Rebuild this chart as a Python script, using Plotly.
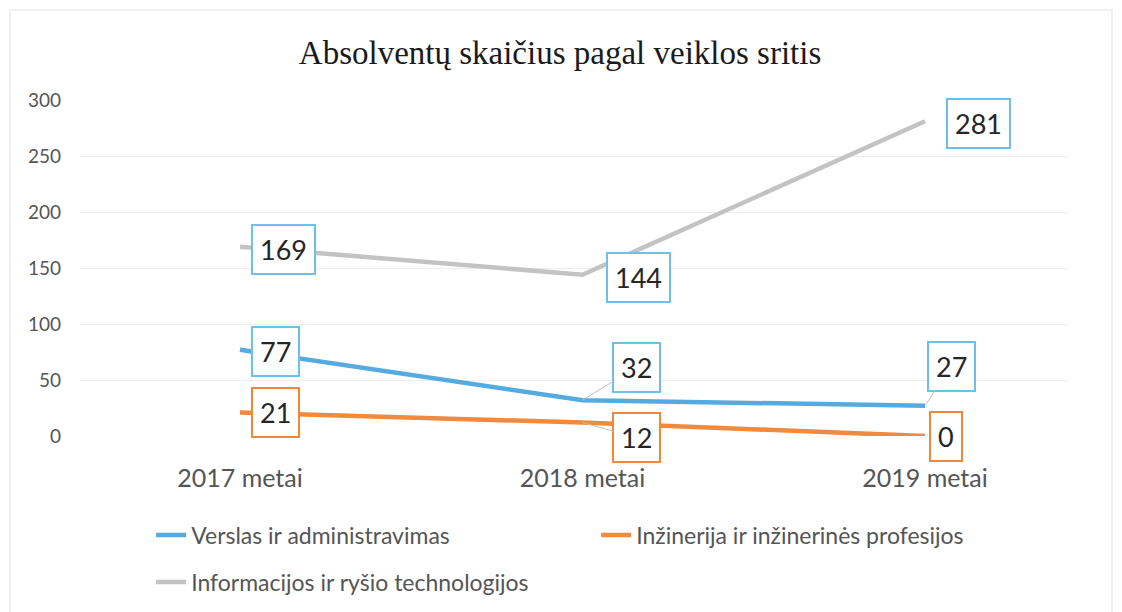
import plotly.graph_objects as go

# data
years = ["2017 metai", "2018 metai", "2019 metai"]
verslas = [77, 32, 27]
inzinerija = [21, 12, 0]
it = [169, 144, 281]

series_names = [
    "Verslas ir administravimas",
    "Inžinerija ir inžinerinės profesijos",
    "Informacijos ir ryšio technologijos",
]
y_ticks = [0, 50, 100, 150, 200, 250, 300]

blue = "#55ABE0"
orange = "#F28A3E"
grey = "#C3C3C3"
box_blue = "#6CC0EA"
box_orange = "#F0883C"

fig = go.Figure()
fig.add_trace(go.Scatter(x=years, y=verslas, name=series_names[0], mode="lines",
                         line=dict(color=blue, width=4.5), legend="legend"))
fig.add_trace(go.Scatter(x=years, y=inzinerija, name=series_names[1], mode="lines",
                         line=dict(color=orange, width=4.5), legend="legend"))
fig.add_trace(go.Scatter(x=years, y=it, name=series_names[2], mode="lines",
                         line=dict(color=grey, width=4.5), legend="legend2"))

# label placement: (box centre offset x, offset y, border colour, leader line)
label_style = {
    "it": [(44, 3, box_blue, False), (56, 3, box_blue, False), (53, 2, box_blue, False)],
    "verslas": [(36, 2, box_blue, False), (54, -33, box_blue, True), (26, -39, box_blue, True)],
    "inzinerija": [(36, 0, box_orange, False), (54, 15, box_orange, True), (21, 0, box_orange, False)],
}
for key, vals in (("it", it), ("verslas", verslas), ("inzinerija", inzinerija)):
    for i, v in enumerate(vals):
        dx, dy, bc, leader = label_style[key][i]
        fig.add_annotation(
            x=years[i], y=v, text=str(v),
            showarrow=True, ax=dx, ay=dy, axref="pixel", ayref="pixel",
            arrowhead=0, arrowwidth=1,
            arrowcolor="#BFBFBF" if leader else "rgba(0,0,0,0)",
            font=dict(family="Lato", size=27, color="#262626"),
            bgcolor="white", bordercolor=bc, borderwidth=2, borderpad=7,
        )

# faint outer chart border
fig.add_shape(type="rect", xref="paper", yref="paper",
              x0=-0.0709, x1=1.0445, y0=-0.65, y1=1.268,
              line=dict(color="#EBEBEB", width=1.5), layer="below")

fig.update_layout(
    width=1122, height=612,
    margin=dict(l=72, r=62, t=92, b=184),
    paper_bgcolor="white", plot_bgcolor="white",
    title=dict(text="Absolventų skaičius pagal veiklos sritis", x=0.492, xref="container",
               y=1 - 44 / 612, yanchor="middle",
               font=dict(family="Liberation Serif", size=33, color="#1a1a1a")),
    xaxis=dict(range=[-0.467, 2.4175], showgrid=False, showline=False, zeroline=False,
               tickfont=dict(family="Lato", size=25, color="#555555"), ticklabelstandoff=25),
    yaxis=dict(range=[0, 300], tickvals=y_ticks, showgrid=True, gridcolor="#EDEDED",
               gridwidth=1, zeroline=False, showline=False,
               tickfont=dict(family="Lato", size=19, color="#555555"), ticklabelstandoff=18),
    legend=dict(orientation="h", x=0.072, xanchor="left", y=-0.295, yanchor="middle",
                entrywidth=400, font=dict(family="Lato", size=23, color="#555555")),
    legend2=dict(orientation="h", x=0.072, xanchor="left", y=-0.4345, yanchor="middle",
                 font=dict(family="Lato", size=23, color="#555555")),
    showlegend=True,
)

fig.write_html("out.html")
